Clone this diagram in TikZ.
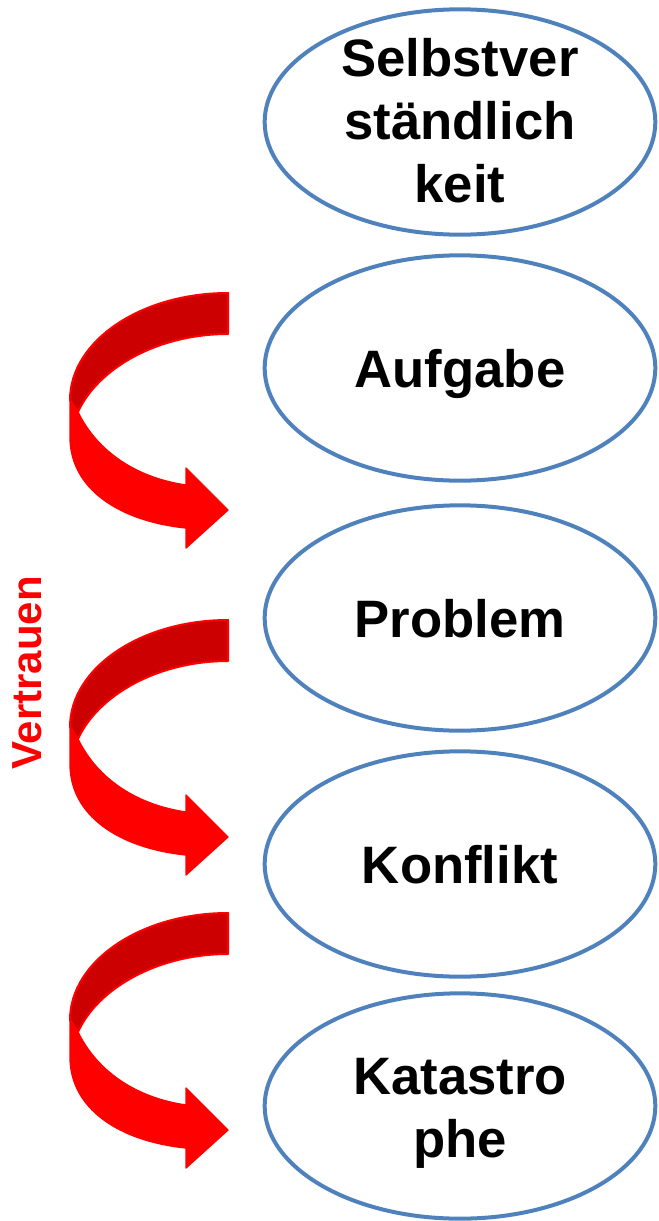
\documentclass[tikz,border=0pt]{standalone}
\usepackage{fontspec}
\setmainfont{Liberation Sans}
\usetikzlibrary{shapes.geometric}
\definecolor{ovalblue}{HTML}{4F81BD}
\definecolor{backred}{HTML}{CC0000}
\newcommand{\pxUnit}[0]{0.75pt}

\begin{document}
\begin{tikzpicture}[x=\pxUnit, y=-\pxUnit]
  \tikzset{oval/.style={ellipse, draw=ovalblue, line width=3pt,
      minimum width=293pt, minimum height=169pt, inner sep=0pt},
    word/.style={align=center, font=\fontsize{39.5}{47.25}\selectfont\bfseries},
    ribbonback/.style={fill=backred, draw=red, line width=1.5pt, line join=round},
    ribbonfront/.style={fill=red, draw=red, line width=1pt, line join=round}}
  \useasboundingbox (0,0) rectangle (659,1221);

  % the five stages
  \node[oval] (selbst) at (460,122) {};
  \node[oval] (aufgabe) at (460,368) {};
  \node[oval] (problem) at (460,618) {};
  \node[oval] (konflikt) at (460,864) {};
  \node[oval] (katastrophe) at (460,1106) {};
  \node[word] (selbstText) at (460,121) {Selbstver\\ständlich\\keit};
  \node[word] (aufgabeText) at (460,374) {Aufgabe};
  \node[word] (problemText) at (460,619) {Problem};
  \node[word] (konfliktText) at (460,865) {Konflikt};
  \node[word] (katastropheText) at (460,1113) {Katastro\\phe};

  % curved ribbon arrows
  \foreach \top in {293,620,913}{
    \begin{scope}[shift={(228,\top)}]
      \filldraw[ribbonback] (0,0) .. controls (-87,0) and (-158,48) .. (-158,107)
        -- (-150,119) .. controls (-130,75) and (-70,41) .. (0,41) -- cycle;
      \filldraw[ribbonfront] (-158,107) -- (-150,119)
        .. controls (-130,160) and (-90,185) .. (-42,192)
        -- (-42,175) -- (0,217) -- (-42,255) -- (-42,235)
        .. controls (-110,228) and (-158,195) .. (-158,144) -- cycle;
    \end{scope}
  }

  \node[rotate=90, text=red, font=\fontsize{31.5}{38}\selectfont\bfseries]
    (vertrauen) at (27,673) {Vertrauen};
\end{tikzpicture}
\end{document}
